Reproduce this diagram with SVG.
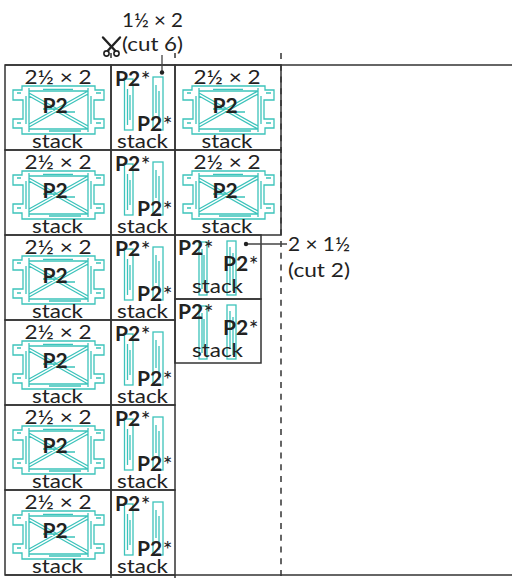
<svg xmlns="http://www.w3.org/2000/svg" xmlns:xlink="http://www.w3.org/1999/xlink" width="512" height="578" viewBox="0 0 512 578">
<style>
.cell{fill:none;stroke:#333;stroke-width:1.5}
.ln{fill:none;stroke:#333;stroke-width:1.5}
.dash{fill:none;stroke:#333;stroke-width:1.5;stroke-dasharray:6 5.75}
.t{font-family:Lato,"Liberation Sans",sans-serif;font-size:20px;fill:#222}
.b{font-family:Lato,"Liberation Sans",sans-serif;font-weight:700;font-size:21px;fill:#222}
.ast{font-weight:400;font-size:23px}
.tl{fill:none;stroke:#3cc3bb;stroke-width:1.3}
.con{fill:none;stroke:#444;stroke-width:1.3}
.dot{fill:#222}
</style>
<defs>
<g id="frame">
<path class="tl" d="M9,0 H82 V4 H91 V14 H81 V33 H91 V42 H82 V48 H9 V42 H0 V33 H10 V14 H0 V4 H9 Z"/>
<path class="tl" d="M16,2 V46 M75,2 V46 M16,5 H75 M16,43 H75 M13,10 V38 M78,10 V38 M4,7 H8 M83,7 H88 M4,37 H8 M83,37 H88 M30,3.3 H60 M36,45 H68 M16,7 L75,40 M16,10 L75,43 M16,41 L75,8 M16,38 L75,5 M30,23 H44 M50,26 H62"/>
</g>
<g id="boards">
<rect class="tl" x="13.5" y="14" width="8.5" height="51"/>
<path class="tl" d="M16.5,24 V60 M19,30 V55"/>
<rect class="tl" x="42" y="12" width="10" height="53"/>
<path class="tl" d="M45,20 V48 M48,26 V60"/>
</g>
<g id="boardsS">
<rect class="tl" x="24" y="7" width="8" height="53"/>
<path class="tl" d="M27,14 V54 M29,20 V48"/>
<rect class="tl" x="52" y="6" width="9" height="54"/>
<path class="tl" d="M55,12 V50 M58,18 V56"/>
</g>
</defs>

<g id="sheet">
<line class="ln" x1="5" y1="65" x2="512" y2="65"/>
<line class="ln" x1="5" y1="575" x2="512" y2="575"/>
<line class="ln" x1="111" y1="53" x2="111" y2="58"/>
<line class="ln" x1="175" y1="53" x2="175" y2="58"/>
<line class="ln" x1="111" y1="575" x2="111" y2="578"/>
<line class="ln" x1="175" y1="575" x2="175" y2="578"/>
<line class="dash" x1="281" y1="53" x2="281" y2="578"/>
</g>

<!-- column 1 -->
<g id="c1r1" transform="translate(5,65)"><rect class="cell" width="106" height="85"/><text class="t" x="19.5" y="19" textLength="67" lengthAdjust="spacingAndGlyphs">2½ × 2</text><use xlink:href="#frame" transform="translate(8,21)"/><text class="b" x="50" y="48" text-anchor="middle">P2</text><text class="t" x="27" y="83" textLength="51" lengthAdjust="spacingAndGlyphs">stack</text></g>
<g id="c1r2" transform="translate(5,150)"><rect class="cell" width="106" height="85"/><text class="t" x="19.5" y="19" textLength="67" lengthAdjust="spacingAndGlyphs">2½ × 2</text><use xlink:href="#frame" transform="translate(8,21)"/><text class="b" x="50" y="48" text-anchor="middle">P2</text><text class="t" x="27" y="83" textLength="51" lengthAdjust="spacingAndGlyphs">stack</text></g>
<g id="c1r3" transform="translate(5,235)"><rect class="cell" width="106" height="85"/><text class="t" x="19.5" y="19" textLength="67" lengthAdjust="spacingAndGlyphs">2½ × 2</text><use xlink:href="#frame" transform="translate(8,21)"/><text class="b" x="50" y="48" text-anchor="middle">P2</text><text class="t" x="27" y="83" textLength="51" lengthAdjust="spacingAndGlyphs">stack</text></g>
<g id="c1r4" transform="translate(5,320)"><rect class="cell" width="106" height="85"/><text class="t" x="19.5" y="19" textLength="67" lengthAdjust="spacingAndGlyphs">2½ × 2</text><use xlink:href="#frame" transform="translate(8,21)"/><text class="b" x="50" y="48" text-anchor="middle">P2</text><text class="t" x="27" y="83" textLength="51" lengthAdjust="spacingAndGlyphs">stack</text></g>
<g id="c1r5" transform="translate(5,405)"><rect class="cell" width="106" height="85"/><text class="t" x="19.5" y="19" textLength="67" lengthAdjust="spacingAndGlyphs">2½ × 2</text><use xlink:href="#frame" transform="translate(8,21)"/><text class="b" x="50" y="48" text-anchor="middle">P2</text><text class="t" x="27" y="83" textLength="51" lengthAdjust="spacingAndGlyphs">stack</text></g>
<g id="c1r6" transform="translate(5,490)"><rect class="cell" width="106" height="85"/><text class="t" x="19.5" y="19" textLength="67" lengthAdjust="spacingAndGlyphs">2½ × 2</text><use xlink:href="#frame" transform="translate(8,21)"/><text class="b" x="50" y="48" text-anchor="middle">P2</text><text class="t" x="27" y="83" textLength="51" lengthAdjust="spacingAndGlyphs">stack</text></g>

<!-- column 2 -->
<g id="c2r1" transform="translate(111,65)"><rect class="cell" width="64" height="85"/><use xlink:href="#boards"/><text class="b" x="4" y="21">P2<tspan class="ast" dx="0.5" dy="2">*</tspan></text><text class="b" x="26" y="66">P2<tspan class="ast" dx="0.5" dy="2">*</tspan></text><text class="t" x="6" y="83" textLength="51" lengthAdjust="spacingAndGlyphs">stack</text></g>
<g id="c2r2" transform="translate(111,150)"><rect class="cell" width="64" height="85"/><use xlink:href="#boards"/><text class="b" x="4" y="21">P2<tspan class="ast" dx="0.5" dy="2">*</tspan></text><text class="b" x="26" y="66">P2<tspan class="ast" dx="0.5" dy="2">*</tspan></text><text class="t" x="6" y="83" textLength="51" lengthAdjust="spacingAndGlyphs">stack</text></g>
<g id="c2r3" transform="translate(111,235)"><rect class="cell" width="64" height="85"/><use xlink:href="#boards"/><text class="b" x="4" y="21">P2<tspan class="ast" dx="0.5" dy="2">*</tspan></text><text class="b" x="26" y="66">P2<tspan class="ast" dx="0.5" dy="2">*</tspan></text><text class="t" x="6" y="83" textLength="51" lengthAdjust="spacingAndGlyphs">stack</text></g>
<g id="c2r4" transform="translate(111,320)"><rect class="cell" width="64" height="85"/><use xlink:href="#boards"/><text class="b" x="4" y="21">P2<tspan class="ast" dx="0.5" dy="2">*</tspan></text><text class="b" x="26" y="66">P2<tspan class="ast" dx="0.5" dy="2">*</tspan></text><text class="t" x="6" y="83" textLength="51" lengthAdjust="spacingAndGlyphs">stack</text></g>
<g id="c2r5" transform="translate(111,405)"><rect class="cell" width="64" height="85"/><use xlink:href="#boards"/><text class="b" x="4" y="21">P2<tspan class="ast" dx="0.5" dy="2">*</tspan></text><text class="b" x="26" y="66">P2<tspan class="ast" dx="0.5" dy="2">*</tspan></text><text class="t" x="6" y="83" textLength="51" lengthAdjust="spacingAndGlyphs">stack</text></g>
<g id="c2r6" transform="translate(111,490)"><rect class="cell" width="64" height="85"/><use xlink:href="#boards"/><text class="b" x="4" y="21">P2<tspan class="ast" dx="0.5" dy="2">*</tspan></text><text class="b" x="26" y="66">P2<tspan class="ast" dx="0.5" dy="2">*</tspan></text><text class="t" x="6" y="83" textLength="51" lengthAdjust="spacingAndGlyphs">stack</text></g>

<!-- column 3 -->
<g id="c3r1" transform="translate(175,65)"><rect class="cell" width="106" height="85"/><text class="t" x="18.5" y="19" textLength="67" lengthAdjust="spacingAndGlyphs">2½ × 2</text><use xlink:href="#frame" transform="translate(8,21)"/><text class="b" x="50" y="48" text-anchor="middle">P2</text><text class="t" x="26.5" y="83" textLength="51" lengthAdjust="spacingAndGlyphs">stack</text></g>
<g id="c3r2" transform="translate(175,150)"><rect class="cell" width="106" height="85"/><text class="t" x="18.5" y="19" textLength="67" lengthAdjust="spacingAndGlyphs">2½ × 2</text><use xlink:href="#frame" transform="translate(8,21)"/><text class="b" x="50" y="48" text-anchor="middle">P2</text><text class="t" x="26.5" y="83" textLength="51" lengthAdjust="spacingAndGlyphs">stack</text></g>
<g id="c3s1" transform="translate(175,235)"><rect class="cell" width="86" height="64"/><use xlink:href="#boardsS"/><text class="b" x="3" y="20">P2<tspan class="ast" dx="0.5" dy="2">*</tspan></text><text class="b" x="48" y="36">P2<tspan class="ast" dx="0.5" dy="2">*</tspan></text><text class="t" x="17" y="58" textLength="51" lengthAdjust="spacingAndGlyphs">stack</text></g>
<g id="c3s2" transform="translate(175,299)"><rect class="cell" width="86" height="64"/><use xlink:href="#boardsS"/><text class="b" x="3" y="20">P2<tspan class="ast" dx="0.5" dy="2">*</tspan></text><text class="b" x="48" y="36">P2<tspan class="ast" dx="0.5" dy="2">*</tspan></text><text class="t" x="17" y="58" textLength="51" lengthAdjust="spacingAndGlyphs">stack</text></g>

<!-- callout labels -->
<g id="label-top">
<text class="t" x="122" y="27" textLength="61" lengthAdjust="spacingAndGlyphs">1½ × 2</text>
<text class="t" x="122" y="51" textLength="61" lengthAdjust="spacingAndGlyphs">(cut 6)</text>
<g id="scissors" fill="none" stroke="#222" stroke-width="2.4" stroke-linecap="round">
<path d="M103,37.5 L115,50.5 M120,37.5 L108,50.5"/>
<circle cx="106.5" cy="53.5" r="2.6" stroke-width="1.6"/>
<circle cx="116.5" cy="53.5" r="2.6" stroke-width="1.6"/>
</g>
</g>
<g id="label-right">
<text class="t" x="288" y="251" textLength="62" lengthAdjust="spacingAndGlyphs">2 × 1½</text>
<text class="t" x="288" y="277" textLength="62" lengthAdjust="spacingAndGlyphs">(cut 2)</text>
</g>

<g id="connectors">
<line class="con" x1="162" y1="55" x2="162" y2="72"/>
<circle class="dot" cx="162" cy="72.5" r="2.2"/>
<line class="con" x1="246" y1="244" x2="287" y2="244"/>
<circle class="dot" cx="246" cy="244" r="2.2"/>
</g>
</svg>
